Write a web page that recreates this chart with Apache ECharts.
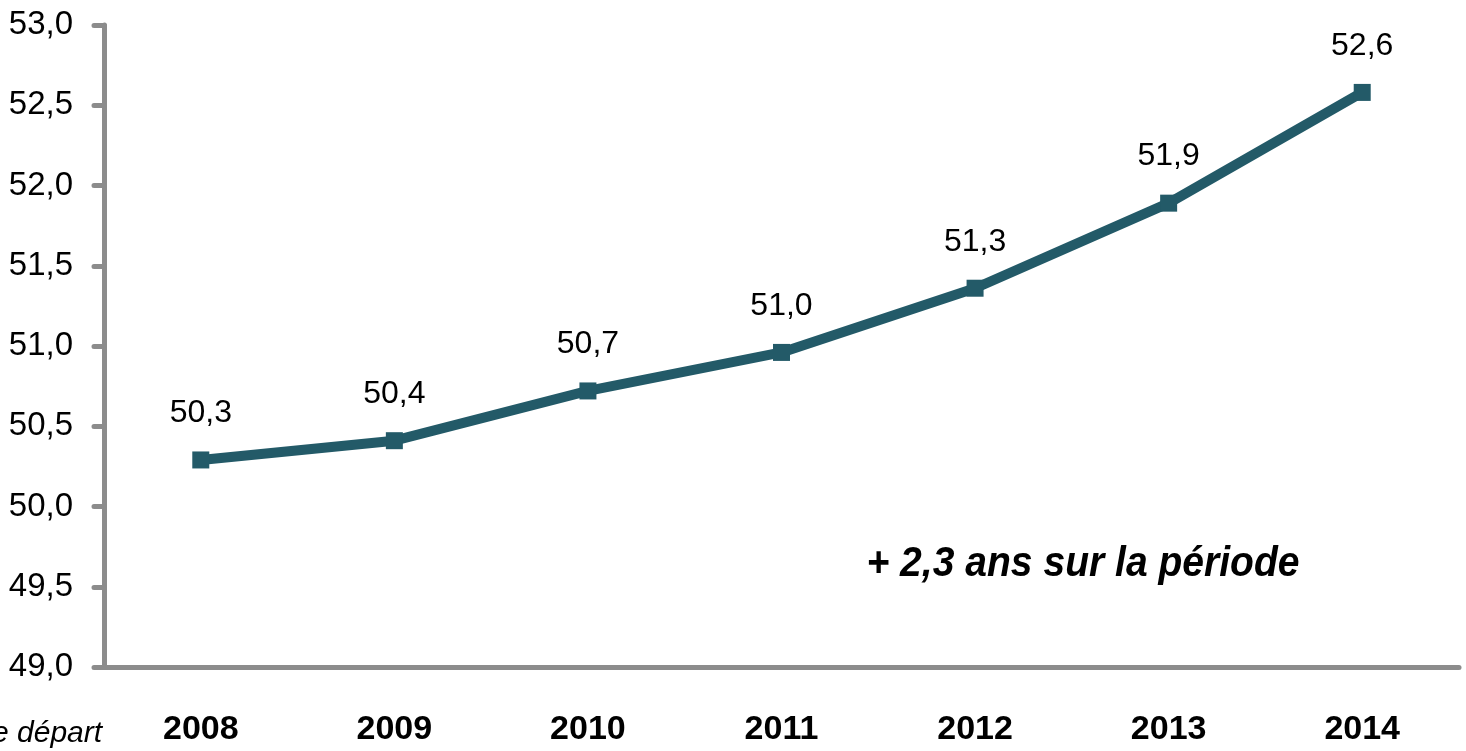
<!DOCTYPE html>
<html>
<head>
<meta charset="UTF-8"/>
<script src="https://cdn.jsdelivr.net/npm/echarts@6/dist/echarts.min.js"></script>
<style type="text/css">
	html, body { margin:0; padding:0; background:#fff; }
	#chart { width:1466px; height:751px; }
</style>
</head>
<body>
<div id="chart"></div>
<script type="text/javascript">
// années et âge moyen
var annees = ['2008', '2009', '2010', '2011', '2012', '2013', '2014'];
var valeurs = [50.29, 50.41, 50.72, 50.96, 51.36, 51.89, 52.58];
var etiquettes = ['50,3', '50,4', '50,7', '51,0', '51,3', '51,9', '52,6'];
var police = '"Liberation Sans", Arial, sans-serif';

var myChart = echarts.init(document.getElementById('chart'));
var option = {
	backgroundColor: '#fff',
	animation: false,
	grid: {
		left: 104,
		right: 7,
		top: 25,
		bottom: 84
	},
	xAxis: {
		type: 'category',
		data: annees,
		boundaryGap: true,
		axisLine: { lineStyle: { color: '#8c8c8c', width: 5, cap: 'round' } },
		axisTick: { show: false },
		axisLabel: {
			color: '#000',
			fontFamily: police,
			fontWeight: 'bold',
			fontSize: 34,
			margin: 46
		}
	},
	yAxis: {
		type: 'value',
		min: 49,
		max: 53,
		interval: 0.5,
		splitLine: { show: false },
		axisLine: { show: true, lineStyle: { color: '#8c8c8c', width: 5, cap: 'round' } },
		axisTick: { show: true, length: 10, lineStyle: { color: '#8c8c8c', width: 5, cap: 'round' } },
		axisLabel: {
			color: '#000',
			fontFamily: police,
			fontSize: 33,
			margin: 31,
			formatter: function (v) { return v.toFixed(1).replace('.', ','); }
		}
	},
	series: [{
		type: 'line',
		data: valeurs,
		symbol: 'rect',
		symbolSize: 17,
		lineStyle: { color: '#235a68', width: 10 },
		itemStyle: { color: '#235a68' },
		label: {
			show: true,
			position: 'top',
			distance: 22,
			color: '#000',
			fontFamily: police,
			fontSize: 32,
			formatter: function (p) { return etiquettes[p.dataIndex]; }
		}
	}],
	graphic: [
		{
			type: 'text',
			x: 1083,
			y: 564,
			scaleX: 0.93,
			style: {
				text: '+ 2,3 ans sur la période',
				font: 'italic bold 42px ' + police,
				fill: '#000',
				align: 'center',
				verticalAlign: 'middle'
			}
		},
		{
			type: 'text',
			x: -8,
			y: 734,
			style: {
				text: 'e départ',
				font: 'italic 30px ' + police,
				fill: '#000',
				verticalAlign: 'middle'
			}
		}
	]
};
myChart.setOption(option);
</script>
</body>
</html>
